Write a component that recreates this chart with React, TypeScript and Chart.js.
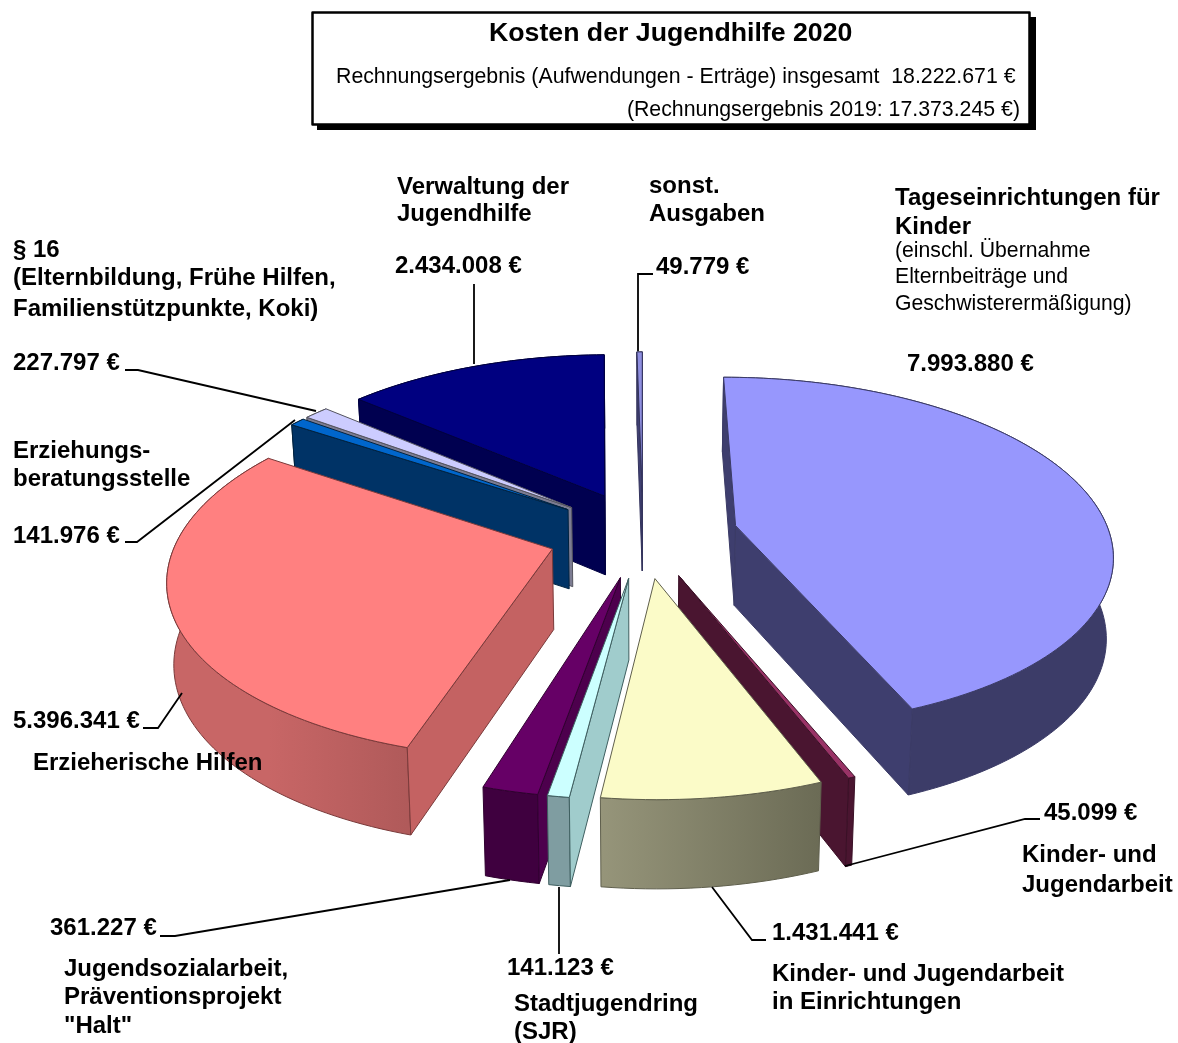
import React, { useEffect, useRef } from "react";
import { Chart, registerables } from "chart.js";

Chart.register(...registerables);

const categories = [
  "Tageseinrichtungen für Kinder",
  "Kinder- und Jugendarbeit",
  "Kinder- und Jugendarbeit in Einrichtungen",
  "Stadtjugendring (SJR)",
  "Jugendsozialarbeit, Präventionsprojekt Halt",
  "Erzieherische Hilfen",
  "Erziehungsberatungsstelle",
  "§ 16",
  "Verwaltung der Jugendhilfe",
  "sonst. Ausgaben",
];
const costs = [7993880, 45099, 1431441, 141123, 361227, 5396341, 141976, 227797, 2434008, 49779];

const explode = [95, 93.5, 93.5, 93.5, 93.5, 95, 93.5, 93.5, 93.5, 93.5];
const topColors = ["#9797fd", "#993366", "#fbfbc8", "#ccffff", "#660066", "#ff8080", "#0066cc", "#ccccff", "#000080", "#8f8fe0"];
const wallFrom = ["#3f3f72", "#4a1530", "#96957a", "#7f9da1", "#3f003f", "#c86666", "#003058", "#7c7c92", "#000050", "#3f3f72"];
const wallTo = ["#3c3c68", "#4a1530", "#6b6b55", "#7f9da1", "#3f003f", "#b05a5a", "#003058", "#7c7c92", "#000050", "#3f3f72"];
const sideColors = ["#3e3e6e", "#4a1530", "#8f8f70", "#a0cccc", "#4d004d", "#c46262", "#003366", "#7c7c92", "#000050", "#3f3f72"];
const edgeColors = ["#3b3b66", "#3a1026", "#5f5f4c", "#3f5f60", "#300030", "#7a3a3a", "#00223f", "#55555f", "#000040", "#33335c"];

type T = { t: string; x: number; y: number; b?: boolean; s?: number; align?: CanvasTextAlign };
const bold = 24;
const small = 21.2;
const annotations: T[] = [
  { t: "Kosten der Jugendhilfe 2020", x: 489, y: 41, s: 26.7 },
  { t: "Rechnungsergebnis (Aufwendungen - Erträge) insgesamt  18.222.671 €", x: 336, y: 83, b: false, s: 21.3 },
  { t: "(Rechnungsergebnis 2019: 17.373.245 €)", x: 1020, y: 116, b: false, s: 21.3, align: "right" },
  { t: "Verwaltung der", x: 397, y: 194 },
  { t: "Jugendhilfe", x: 397, y: 221 },
  { t: "2.434.008 €", x: 395, y: 273 },
  { t: "sonst.", x: 649, y: 193 },
  { t: "Ausgaben", x: 649, y: 221 },
  { t: "49.779 €", x: 656, y: 274 },
  { t: "Tageseinrichtungen für", x: 895, y: 205 },
  { t: "Kinder", x: 895, y: 234 },
  { t: "(einschl. Übernahme", x: 895, y: 257, b: false, s: small },
  { t: "Elternbeiträge und", x: 895, y: 283, b: false, s: small },
  { t: "Geschwisterermäßigung)", x: 895, y: 310, b: false, s: small },
  { t: "7.993.880 €", x: 907, y: 371 },
  { t: "§ 16", x: 13, y: 257 },
  { t: "(Elternbildung, Frühe Hilfen,", x: 13, y: 285 },
  { t: "Familienstützpunkte, Koki)", x: 13, y: 316 },
  { t: "227.797 €", x: 13, y: 370 },
  { t: "Erziehungs-", x: 13, y: 458 },
  { t: "beratungsstelle", x: 13, y: 486 },
  { t: "141.976 €", x: 13, y: 543 },
  { t: "5.396.341 €", x: 13, y: 728 },
  { t: "Erzieherische Hilfen", x: 33, y: 770 },
  { t: "361.227 €", x: 50, y: 935 },
  { t: "Jugendsozialarbeit,", x: 64, y: 976 },
  { t: "Präventionsprojekt", x: 64, y: 1004 },
  { t: "\"Halt\"", x: 64, y: 1033 },
  { t: "141.123 €", x: 507, y: 975 },
  { t: "Stadtjugendring", x: 514, y: 1011 },
  { t: "(SJR)", x: 514, y: 1039 },
  { t: "1.431.441 €", x: 772, y: 940 },
  { t: "Kinder- und Jugendarbeit", x: 772, y: 981 },
  { t: "in Einrichtungen", x: 772, y: 1009 },
  { t: "45.099 €", x: 1044, y: 820 },
  { t: "Kinder- und", x: 1022, y: 862 },
  { t: "Jugendarbeit", x: 1022, y: 892 },
];

const leaders: number[][] = [
  [474, 284, 474, 364],
  [653, 274, 638, 274, 638, 351],
  [125, 370, 138, 370, 316, 411],
  [125, 542, 137, 542, 295, 420],
  [143, 728, 158, 728, 182, 693],
  [160, 936, 175, 936, 510, 880],
  [559, 887, 559, 954],
  [766, 940, 752, 940, 712, 887],
  [1040, 819, 1025, 819, 845, 866],
];

// view of the tilted pie
const TILT = 173 / 374;
const PERSP = 0.15;
const DEPTH = 80;
const BOTTOM_SCALE = 0.985;

type P = [number, number];

const pie3d = {
  id: "pie3d",
  beforeDraw(chart: any) {
    const c = chart.ctx;
    c.save();
    c.fillStyle = "#ffffff";
    c.fillRect(0, 0, chart.width, chart.height);
    c.restore();
  },
  beforeDatasetsDraw(chart: any) {
    const c: CanvasRenderingContext2D = chart.ctx;
    const arcs: any[] = chart.getDatasetMeta(0).data;
    const items = arcs.map((e, i) => {
      const mid = (e.startAngle + e.endAngle) / 2;
      return { e, i, mid, depth: Math.sin(mid) };
    });
    items.sort((p, q) => p.depth - q.depth);

    for (const { e, i, mid } of items) {
      const R = e.outerRadius;
      const cx = e.x;
      const cy = e.y;
      const o = (e.options.offset || 0) / R;
      const ox = Math.cos(mid) * o;
      const oy = Math.sin(mid) * o;
      const topPt = (u: number, v: number): P => {
        const s = 1 / (1 - PERSP * v);
        return [cx + R * u * s, cy + R * TILT * v * s];
      };
      const botPt = (u: number, v: number): P => {
        const s = 1 / (1 - PERSP * v);
        const [x, y] = topPt(u, v);
        return [cx + (x - cx) * BOTTOM_SCALE, y + DEPTH * (1 + 0.5 * (s - 1))];
      };
      const n = Math.max(2, Math.ceil((e.endAngle - e.startAngle) * 40));
      const rim: [number, number][] = [];
      for (let k = 0; k <= n; k++) {
        const a = e.startAngle + ((e.endAngle - e.startAngle) * k) / n;
        rim.push([ox + Math.cos(a), oy + Math.sin(a)]);
      }
      const poly = (pts: P[], fill: string | CanvasGradient) => {
        c.beginPath();
        pts.forEach((p, k) => (k ? c.lineTo(p[0], p[1]) : c.moveTo(p[0], p[1])));
        c.closePath();
        c.fillStyle = fill;
        c.fill();
        c.strokeStyle = edgeColors[i];
        c.lineWidth = 1;
        c.lineJoin = "round";
        c.stroke();
      };

      const topRim = rim.map(([u, v]) => topPt(u, v));
      const botRim = rim.map(([u, v]) => botPt(u, v));

      // outer wall
      const g = c.createLinearGradient(
        Math.min(topRim[0][0], topRim[n][0]), 0, Math.max(topRim[0][0], topRim[n][0]) + 0.01, 0);
      g.addColorStop(0, wallFrom[i]);
      g.addColorStop(1, wallTo[i]);
      poly([...topRim, ...botRim.slice().reverse()], g);

      // radial walls, back-face culled
      const wall = (rimIndex: number, startSide: boolean) => {
        const A = topPt(ox, oy);
        const A2 = botPt(ox, oy);
        const B = topRim[rimIndex];
        const B2 = botRim[rimIndex];
        const pts: P[] = [A, B, B2, A2];
        let area = 0;
        pts.forEach((p, k) => {
          const q = pts[(k + 1) % 4];
          area += p[0] * q[1] - q[0] * p[1];
        });
        if (startSide ? area < 0 : area > 0) poly(pts, sideColors[i]);
      };
      wall(0, true);
      wall(n, false);

      // top face
      poly([topPt(ox, oy), ...topRim], e.options.backgroundColor);
    }
    return false;
  },
  afterDraw(chart: any) {
    const c: CanvasRenderingContext2D = chart.ctx;
    c.save();
    // title box
    c.fillStyle = "#000000";
    c.fillRect(317, 17, 719, 113);
    c.fillStyle = "#ffffff";
    c.fillRect(312, 12, 718, 113);
    c.strokeStyle = "#000000";
    c.lineWidth = 2.5;
    c.strokeRect(312.5, 12.5, 717, 112);

    c.strokeStyle = "#000000";
    c.lineWidth = 1.8;
    c.lineJoin = "miter";
    for (const l of leaders) {
      c.beginPath();
      for (let k = 0; k < l.length; k += 2) {
        if (k) c.lineTo(l[k], l[k + 1]);
        else c.moveTo(l[k], l[k + 1]);
      }
      c.stroke();
    }
    c.fillStyle = "#000000";
    c.textBaseline = "alphabetic";
    for (const a of annotations) {
      const weight = a.b === false ? "normal" : "bold";
      c.font = `${weight} ${a.s ?? bold}px "Liberation Sans", Arial, sans-serif`;
      c.textAlign = a.align ?? "left";
      c.fillText(a.t, a.x, a.y);
    }
    c.restore();
  },
};

export default function App() {
  const ref = useRef<HTMLCanvasElement>(null);
  useEffect(() => {
    const chart = new Chart(ref.current!, {
      type: "pie",
      data: {
        labels: categories,
        datasets: [
          {
            data: costs,
            backgroundColor: topColors,
            borderWidth: 0,
            radius: 374,
            offset: explode,
          } as any,
        ],
      },
      options: {
        responsive: false,
        animation: false,
        rotation: 0,
        events: [],
        layout: { padding: { left: 108, top: 25 } },
        plugins: { legend: { display: false }, tooltip: { enabled: false }, title: { display: false } },
      },
      plugins: [pie3d],
    } as any);
    return () => chart.destroy();
  }, []);
  return (
    <canvas
      ref={ref}
      width={1178}
      height={1043}
      style={{ position: "fixed", left: 0, top: 0, display: "block", width: 1178, height: 1043 }}
    />
  );
}
